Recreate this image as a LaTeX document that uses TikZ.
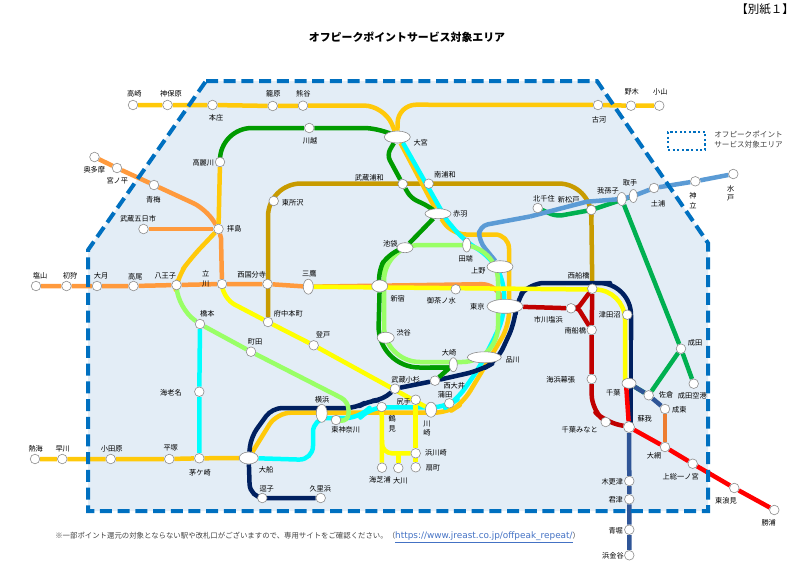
\documentclass[tikz,border=0pt]{standalone}
\usepackage{fontspec}
\setmainfont{Noto Sans CJK JP}
\newfontfamily\urlfont{DejaVu Sans}
\usetikzlibrary{shapes.geometric}
\usetikzlibrary{backgrounds}
\definecolor{areafill}{HTML}{E3EDF6}
\definecolor{arealine}{HTML}{0070C0}
\definecolor{ringline}{HTML}{8C8C8C}
\definecolor{railgold}{HTML}{FFC90A}
\definecolor{railorange}{HTML}{FF9A3D}
\definecolor{railgreen}{HTML}{009B00}
\definecolor{raillime}{HTML}{99FF66}
\definecolor{railcyan}{HTML}{00FFFF}
\definecolor{railyellow}{HTML}{FFFF00}
\definecolor{railnavy}{HTML}{002060}
\definecolor{railblue}{HTML}{5B9BD5}
\definecolor{railkhaki}{HTML}{C89B00}
\definecolor{railred}{HTML}{FF0000}
\definecolor{raildark}{HTML}{C00000}
\definecolor{railjade}{HTML}{00B050}
\definecolor{railsteel}{HTML}{2F5597}
\definecolor{railrust}{HTML}{ED7D31}
\definecolor{notegray}{HTML}{404040}
\definecolor{urlblue}{HTML}{4472C4}

\begin{document}
\begin{tikzpicture}[
		x=1pt, y=-1pt,
		every node/.style={circle, draw=ringline, fill=white, line width=0.6pt, minimum size=9.6pt, inner sep=0pt},
		hub/.style={ellipse},
		lbl/.style={rectangle, draw=none, fill=none, minimum size=0pt, align=center, font=\fontsize{7.2}{9.5}\selectfont},
		rail/.style={line width=4.5pt, line join=round},
		railbend/.style={rail, rounded corners=14pt}
	]
  \useasboundingbox (0,0) rectangle (800,579);

  % north and west
  \node (takasaki) at (133,105) {};
  \node (jimbohara) at (167.5,105) {};
  \node (honjo) at (212.5,105) {};
  \node (kagohara) at (272.7,106) {};
  \node (kumagaya) at (303,105.7) {};
  \node (koga) at (598,105) {};
  \node (nogi) at (631,105.7) {};
  \node (oyama) at (659.3,105.7) {};
  \node (kawagoe) at (309.3,128) {};
  \node (komagawa) at (220,162) {};
  \node (okutama) at (94.5,157) {};
  \node (miyanohira) at (117,168) {};
  \node (ome) at (154,185) {};
  \node (itsukaichi) at (143.5,229) {};
  \node (haijima) at (218.5,229) {};
  \node (enzan) at (36,286) {};
  \node (hatsukari) at (66.5,286) {};
  \node (otsuki) at (97,286) {};
  \node (takao) at (133.5,286) {};
  \node (hachioji) at (176.5,285) {};
  \node (tachikawa) at (222,284) {};
  \node (nishikokubunji) at (267.5,284) {};
  \node (mitaka) [hub, minimum width=10pt, minimum height=15pt] at (308.3,286.7) {};

  % the ring
  \node (omiya) [hub, minimum width=26pt, minimum height=12pt] at (397.3,137) {};
  \node (musashiurawa) at (402.7,184) {};
  \node (minamiurawa) at (428.7,183.7) {};
  \node (tokorozawa) at (273.7,201) {};
  \node (akabane) [hub, minimum width=26pt, minimum height=10pt] at (438,213.7) {};
  \node (ikebukuro) [hub, minimum width=16pt, minimum height=10pt] at (405,247.7) {};
  \node (tabata) [hub, minimum width=8pt, minimum height=14pt] at (466.7,245) {};
  \node (ueno) [hub, minimum width=26pt, minimum height=12pt] at (500,266.7) {};
  \node (shinjuku) [hub, minimum width=16pt, minimum height=12pt] at (379.7,286) {};
  \node (ochanomizu) at (455.7,289.3) {};
  \node (tokyo) [hub, minimum width=36pt, minimum height=14pt] at (505,306.3) {};
  \node (shibuya) [hub, minimum width=17pt, minimum height=11pt] at (385.7,337.7) {};
  \node (osaki) [hub, minimum width=8pt, minimum height=14pt] at (453.3,364.7) {};
  \node (shinagawa) [hub, minimum width=34pt, minimum height=11pt] at (484.3,357.3) {};

  % south west
  \node (fuchuhommachi) at (268,322) {};
  \node (noborito) at (313.7,345.3) {};
  \node (hashimoto) at (200,324) {};
  \node (machida) at (251,351.7) {};
  \node (ebina) at (199.3,391.7) {};
  \node (chigasaki) at (199.3,458.3) {};
  \node (hiratsuka) at (169.3,459) {};
  \node (odawara) at (110.7,459) {};
  \node (hayakawa) at (62.3,459) {};
  \node (atami) at (35,459) {};
  \node (ofuna) [hub, minimum width=19pt, minimum height=12pt] at (248.7,458) {};
  \node (zushi) at (262.3,498) {};
  \node (kurihama) at (320.7,498) {};
  \node (yokohama) [hub, minimum width=11pt, minimum height=18pt] at (321.7,413.3) {};
  \node (higashikanagawa) at (336,420) {};
  \node (kosugi) at (395,388.7) {};
  \node (nishioi) at (435,380.7) {};
  \node (kamata) at (449.3,403.3) {};
  \node (shitte) at (415.7,399.7) {};
  \node (kawasaki) [hub, minimum width=11pt, minimum height=15pt] at (431,409.7) {};
  \node (tsurumi) at (381.7,407) {};
  \node (hamakawasaki) at (415.7,453.3) {};
  \node (ogimachi) at (415.7,467.3) {};
  \node (okawa) at (398.3,468) {};
  \node (umishibaura) at (382,467.7) {};

  % east
  \node (kitasenju) at (537.7,208) {};
  \node (shinmatsudo) at (591.3,210) {};
  \node (abiko) [hub, minimum width=9pt, minimum height=13pt] at (621.7,199) {};
  \node (toride) [hub, minimum width=8pt, minimum height=13pt] at (633.3,196) {};
  \node (tsuchiura) at (654,188) {};
  \node (kandatsu) at (695.3,181.3) {};
  \node (mito) at (733.3,174) {};
  \node (nishifunabashi) at (592.3,288.7) {};
  \node (shioihama) at (571,308.3) {};
  \node (minamifunabashi) at (591.7,330) {};
  \node (makuhari) at (591.7,379) {};
  \node (tsudanuma) at (627.3,314.7) {};
  \node (chiba) [hub, minimum width=14pt, minimum height=10pt] at (629,383.3) {};
  \node (narita) at (681,348.7) {};
  \node (airport) at (693.7,383.7) {};
  \node (sakura) at (648.7,395.3) {};
  \node (naruto) at (665,409) {};
  \node (ami) at (665,447) {};
  \node (soga) [minimum size=11pt] at (629,427) {};
  \node (minato) at (605.7,422) {};
  \node (kazusa) at (692.7,463.7) {};
  \node (torami) at (734.3,488) {};
  \node (katsuura) at (774.3,510) {};
  \node (kisarazu) at (629.3,481) {};
  \node (kimitsu) at (629.3,499.3) {};
  \node (aohori) at (629.3,529.7) {};
  \node (hamakanaya) at (629.3,555.3) {};

  \begin{scope}[on background layer]
    \fill [areafill] (206,81) -- (597,81) -- (708,243) -- (708,511) -- (88,511) -- (88,250) -- cycle;

    \draw [rail, railkhaki, rounded corners=33pt] (fuchuhommachi) -- (268,183.5) -- (591.5,183.5) -- (shinmatsudo);
    \draw [rail, railkhaki] (shinmatsudo) -- (nishifunabashi);

    \draw [rail, railjade] (kitasenju) -- (551,214) [rounded corners=4pt] -- (558,216) -- (shinmatsudo.center) -- (toride);
    \draw [rail, railjade] (abiko) -- (narita) -- (airport);
    \draw [rail, railjade] (narita) -- (sakura) -- (chiba);

    \draw [rail, railorange] (okutama) -- (miyanohira) -- (ome);
    \draw [railbend, railorange] (ome) -- (206,209) -- (haijima);
    \draw [rail, railorange] (itsukaichi) -- (haijima);
    \draw [rail, railorange] (haijima) -- (221,238) -- (tachikawa);
    \draw [rail, railorange] (enzan) -- (hatsukari) -- (otsuki) -- (takao) -- (hachioji) -- (tachikawa) -- (nishikokubunji) -- (mitaka);
    \draw [railbend, railorange] (mitaka) -- (496,284) -- (tokyo);

    \draw [rail, railgold] (takasaki) -- (jimbohara) -- (honjo) -- (kagohara) -- (kumagaya);
    \draw [rail, railgold, rounded corners=20pt] (kumagaya) -- (384,105.5) -- (omiya);
    \draw [rail, railgold, rounded corners=18pt] (omiya) -- (398,104.7) -- (koga);
    \draw [rail, railgold] (koga) -- (nogi) -- (oyama);
    \draw [rail, railgold] (omiya) -- (akabane);
    \draw [railbend, railgold] (akabane) -- (452,234.5) -- (509,234.5) -- (509,326) -- (463,403) -- (448,412.7) -- (276.7,412.7) -- (ofuna);
    \draw [rail, railgold] (atami) -- (hayakawa) -- (odawara) -- (hiratsuka) -- (chigasaki) -- (ofuna);
    \draw [rail, railgold] (komagawa) -- (haijima);
    \draw [railbend, railgold] (haijima) -- (191,258) -- (178,276) -- (hachioji);

    \draw [rail, railcyan] (omiya) -- (403,143) -- (446.7,220);
    \draw [railbend, railcyan] (446.7,220) -- (463.3,240) -- (490,256.7) -- (504,280) -- (504,318) -- (480,366.7) -- (456.7,400) -- (446,407.3) -- (370,407.3) -- (360,418) -- (313,418) -- (313,460) -- (ofuna);
    \draw [rail, railcyan] (hashimoto) -- (ebina) -- (chigasaki);

    \draw [rail, railblue] (mito) -- (kandatsu) -- (tsuchiura) -- (toride.center) -- (abiko.center) -- (586.7,201.7) -- (530,216.5);
    \draw [rail, railblue, rounded corners=9pt] (530,216.5) -- (479,226) -- (479,241) -- (ueno);

    \draw [rail, raildark] (tokyo) -- (shioihama);
    \draw [rail, raildark, rounded corners=3pt] (shioihama) -- (578,308) -- (nishifunabashi);
    \draw [rail, raildark, rounded corners=3pt] (shioihama) -- (578,308) -- (minamifunabashi);
    \draw [rail, raildark] (nishifunabashi) -- (minamifunabashi) -- (makuhari);
    \draw [railbend, raildark] (makuhari) -- (591.7,409) -- (minato.center) -- (soga);

    \draw [railbend, railnavy] (kurihama) -- (250,498) -- (ofuna);
    \draw [railbend, railnavy, rounded corners=10pt] (ofuna) -- (251,437) -- (272,408) -- (356,408) -- (368,401) -- (383,400) -- (kosugi);
    \draw [rail, railnavy] (kosugi) -- (nishioi);
    \draw [railbend, railnavy] (nishioi) -- (480,370.5) -- (497,361) -- (515,322) -- (516.5,300) -- (530,283) -- (596,283) [rounded corners=32pt] -- (631,283) -- (631,340);
    \draw [rail, railnavy] (631,340) -- (631,427);
    \draw [rail, railsteel] (chiba) -- (sakura) -- (naruto);
    \draw [rail, railsteel] (soga) -- (kisarazu) -- (kimitsu) -- (aohori) -- (hamakanaya);
    \draw [rail, railrust] (naruto) -- (ami);

    \draw [rail, railred] (626,383) -- (soga);
    \draw [rail, railred] (soga) -- (ami) -- (kazusa) -- (torami) -- (katsuura);

    \draw [rail, raillime, rounded corners=36pt] (384,300) -- (384,245) -- (498,245) -- (498,362) -- (384,362) -- cycle;
    \draw [rail, raillime, rounded corners=20pt] (hachioji) -- (178,308) -- (hashimoto);
    \draw [rail, raillime, rounded corners=8pt] (hashimoto) -- (machida) -- (348.5,401.5) -- (348.5,421.7) -- (higashikanagawa);

    \draw [rail, railyellow] (mitaka) -- (592,289.5);
    \draw [rail, railyellow, rounded corners=30pt] (592,289.5) -- (625,289.5) -- (625,384);
    \draw [railbend, railyellow, rounded corners=12pt] (tachikawa) -- (224,299) -- (fuchuhommachi);
    \draw [rail, railyellow] (fuchuhommachi) -- (noborito) -- (kawasaki);
    \draw [rail, railyellow] (shitte) -- (hamakawasaki) -- (ogimachi);
    \draw [rail, railyellow] (tsurumi) -- (umishibaura);
    \draw [rail, railyellow, rounded corners=10pt] (382,440) -- (382,453.3) -- (hamakawasaki);
    \draw [rail, railyellow] (okawa) -- (398.3,453.3);

    \draw [railbend, railgreen, rounded corners=32pt] (komagawa) -- (220,128) -- (kawagoe);
    \draw [railbend, railgreen] (kawagoe) -- (378,128) -- (omiya);
    \draw [rail, railgreen, rounded corners=6pt] (omiya) -- (387,155) -- (musashiurawa);
    \draw [rail, railgreen, rounded corners=6pt] (musashiurawa) -- (411,198) -- (428,206) -- (akabane);
    \draw [rail, railgreen] (akabane) -- (ikebukuro);
    \draw [rail, railgreen, rounded corners=12pt] (ikebukuro) -- (388,254) -- (377.5,272) -- (shinjuku);
    \draw [rail, railgreen, rounded corners=42pt] (shinjuku) -- (377.5,367.5) -- (450,367.5);
    \draw [rail, railgreen, rounded corners=2pt] (430,367.5) -- (450,367.5) -- (nishioi);

    \draw [line width=4pt, arealine, dash pattern=on 12pt off 5.7pt] (206,81) -- (597,81) -- (708,243) -- (708,511) -- (88,511) -- (88,250) -- cycle;
  \end{scope}

  % legend box
  \node (legend_box) [rectangle, fill=none, draw=arealine, line width=2.2pt, dash pattern=on 2.2pt off 2.4pt, minimum width=37pt, minimum height=18pt] at (686.5,141) {};
  \node (legend_text) [lbl, align=left, anchor=west, text=notegray, font=\fontsize{7.6}{10.2}\selectfont] at (714,139.5) {オフピークポイント\\サービス対象エリア};

  % headings
  \node (sheet_label) [lbl, font=\fontsize{11.5}{13}\selectfont] at (765,9) {【別紙１】};
  \node (title_label) [lbl, font=\bfseries\fontsize{10.9}{12}\selectfont] at (407,37) {オフピークポイントサービス対象エリア};
  \node (note_label) [lbl, anchor=west, text=notegray, font=\fontsize{7.4}{10}\selectfont] at (55,537) {※一部ポイント還元の対象とならない駅や改札口がございますので、専用サイトをご確認ください。（\textcolor{urlblue}{\urlfont\fontsize{8.9}{10}\selectfont\underline{https://www.jreast.co.jp/offpeak\_repeat/}}）};

  % station names
  \node (takasaki_label) [lbl] at (134.3,93.3) {高崎};
  \node (jimbohara_label) [lbl] at (171,93.3) {神保原};
  \node (honjo_label) [lbl] at (216,117.7) {本庄};
  \node (kagohara_label) [lbl] at (273.3,93.7) {籠原};
  \node (kumagaya_label) [lbl] at (303.3,93.7) {熊谷};
  \node (koga_label) [lbl] at (599,120) {古河};
  \node (nogi_label) [lbl] at (631.7,91.7) {野木};
  \node (oyama_label) [lbl] at (660.3,91.7) {小山};
  \node (kawagoe_label) [lbl] at (310,140.3) {川越};
  \node (komagawa_label) [lbl] at (203.3,162.3) {高麗川};
  \node (okutama_label) [lbl] at (94.3,169.7) {奥多摩};
  \node (miyanohira_label) [lbl] at (117.3,180.7) {宮ノ平};
  \node (ome_label) [lbl] at (153.3,200) {青梅};
  \node (itsukaichi_label) [lbl] at (138,218.3) {武蔵五日市};
  \node (haijima_label) [lbl] at (234.3,228.7) {拝島};
  \node (enzan_label) [lbl] at (40,276) {塩山};
  \node (hatsukari_label) [lbl] at (70,276) {初狩};
  \node (otsuki_label) [lbl] at (101,276) {大月};
  \node (takao_label) [lbl] at (135.3,276.7) {高尾};
  \node (hachioji_label) [lbl] at (165.3,276) {八王子};
  \node (tachikawa_label) [lbl] at (205.7,279) {立\\川};
  \node (nishikokubunji_label) [lbl] at (251.7,274.3) {西国分寺};
  \node (mitaka_label) [lbl] at (309.3,273.7) {三鷹};
  \node (omiya_label) [lbl] at (420.7,143) {大宮};
  \node (musashiurawa_label) [lbl] at (369.3,177.3) {武蔵浦和};
  \node (minamiurawa_label) [lbl] at (445,174.3) {南浦和};
  \node (tokorozawa_label) [lbl] at (292.7,202.7) {東所沢};
  \node (akabane_label) [lbl] at (460.3,214) {赤羽};
  \node (ikebukuro_label) [lbl] at (390.3,243.3) {池袋};
  \node (tabata_label) [lbl] at (465.7,258.7) {田端};
  \node (ueno_label) [lbl] at (478.3,271) {上野};
  \node (shinjuku_label) [lbl] at (397.7,299) {新宿};
  \node (ochanomizu_label) [lbl] at (441.3,300.7) {御茶ノ水};
  \node (tokyo_label) [lbl] at (477.3,306.7) {東京};
  \node (shibuya_label) [lbl] at (403.7,332.3) {渋谷};
  \node (osaki_label) [lbl] at (449,352.3) {大崎};
  \node (shinagawa_label) [lbl] at (512.7,360) {品川};
  \node (fuchuhommachi_label) [lbl] at (288.3,314) {府中本町};
  \node (noborito_label) [lbl] at (323,334.3) {登戸};
  \node (hashimoto_label) [lbl] at (207.3,313.3) {橋本};
  \node (machida_label) [lbl] at (255,341.7) {町田};
  \node (ebina_label) [lbl] at (171,392.3) {海老名};
  \node (chigasaki_label) [lbl] at (200,472.3) {茅ケ崎};
  \node (hiratsuka_label) [lbl] at (170.7,448.3) {平塚};
  \node (odawara_label) [lbl] at (111.7,449) {小田原};
  \node (hayakawa_label) [lbl] at (62.7,449) {早川};
  \node (atami_label) [lbl] at (35.7,449) {熱海};
  \node (ofuna_label) [lbl] at (266,469.3) {大船};
  \node (zushi_label) [lbl] at (266.7,489) {逗子};
  \node (kurihama_label) [lbl] at (320.3,489) {久里浜};
  \node (yokohama_label) [lbl] at (322,400) {横浜};
  \node (higashikanagawa_label) [lbl] at (345.7,430) {東神奈川};
  \node (kosugi_label) [lbl] at (405.7,379.3) {武蔵小杉};
  \node (nishioi_label) [lbl] at (454.3,386) {西大井};
  \node (kamata_label) [lbl] at (445,395) {蒲田};
  \node (shitte_label) [lbl] at (403.7,401.3) {尻手};
  \node (kawasaki_label) [lbl] at (427,428.3) {川\\崎};
  \node (tsurumi_label) [lbl] at (392.3,424) {鶴\\見};
  \node (hamakawasaki_label) [lbl] at (436,453) {浜川崎};
  \node (ogimachi_label) [lbl] at (433,468) {扇町};
  \node (okawa_label) [lbl] at (400.3,480.7) {大川};
  \node (umishibaura_label) [lbl] at (380,480) {海芝浦};
  \node (kitasenju_label) [lbl] at (544,198.7) {北千住};
  \node (shinmatsudo_label) [lbl] at (568.7,200) {新松戸};
  \node (abiko_label) [lbl] at (608,190.3) {我孫子};
  \node (toride_label) [lbl] at (630,182.7) {取手};
  \node (tsuchiura_label) [lbl] at (658,204) {土浦};
  \node (kandatsu_label) [lbl] at (693,200.7) {神\\立};
  \node (mito_label) [lbl] at (730.7,193.3) {水\\戸};
  \node (nishifunabashi_label) [lbl] at (578.7,275.7) {西船橋};
  \node (shioihama_label) [lbl] at (548.3,320) {市川塩浜};
  \node (minamifunabashi_label) [lbl] at (575.3,330.3) {南船橋};
  \node (makuhari_label) [lbl] at (560.7,380) {海浜幕張};
  \node (tsudanuma_label) [lbl] at (609.7,314.3) {津田沼};
  \node (chiba_label) [lbl] at (613.3,392.3) {千葉};
  \node (narita_label) [lbl] at (695,343) {成田};
  \node (airport_label) [lbl] at (692.3,396) {成田空港};
  \node (sakura_label) [lbl] at (666,395) {佐倉};
  \node (naruto_label) [lbl] at (679.3,410) {成東};
  \node (ami_label) [lbl] at (654,456) {大網};
  \node (soga_label) [lbl] at (644.7,418.3) {蘇我};
  \node (minato_label) [lbl] at (579.7,429.3) {千葉みなと};
  \node (kazusa_label) [lbl] at (680.7,477) {上総一ノ宮};
  \node (torami_label) [lbl] at (726,501) {東浪見};
  \node (katsuura_label) [lbl] at (768.7,523) {勝浦};
  \node (kisarazu_label) [lbl] at (612.3,481.7) {木更津};
  \node (kimitsu_label) [lbl] at (615.7,500) {君津};
  \node (aohori_label) [lbl] at (615.7,531) {青堀};
  \node (hamakanaya_label) [lbl] at (613,556) {浜金谷};
\end{tikzpicture}
\end{document}
